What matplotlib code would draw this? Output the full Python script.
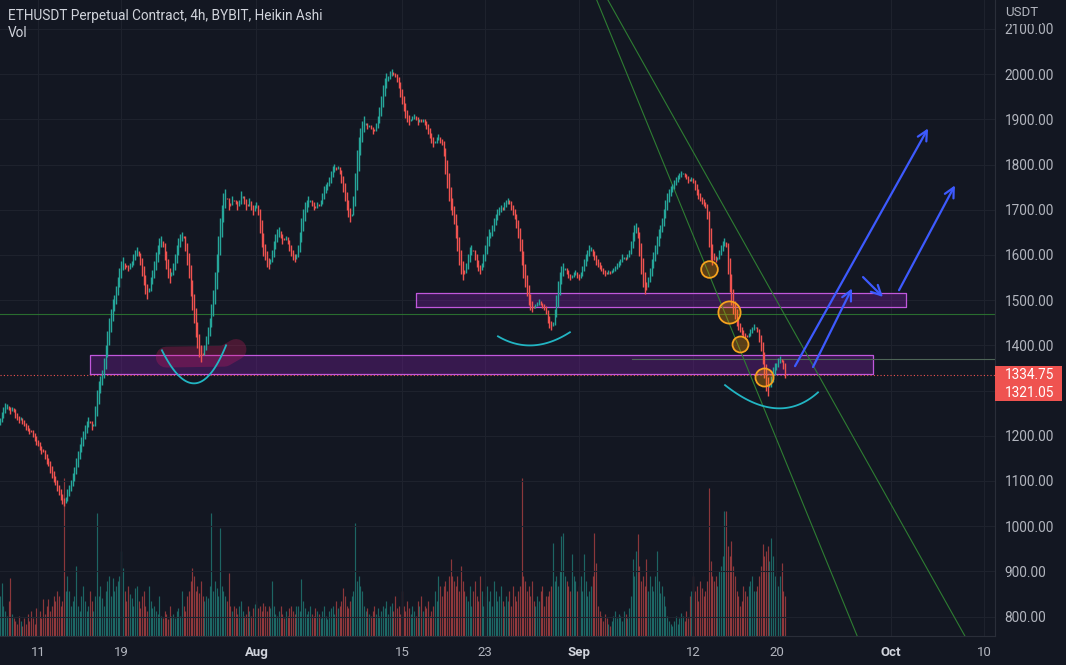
import matplotlib
matplotlib.use("Agg")
import matplotlib.pyplot as plt
import matplotlib.dates as mdates
import matplotlib.transforms as mtransforms
from matplotlib.patches import Rectangle
import numpy as np
import pandas as pd

plt.rcParams["font.family"] = ["Roboto", "DejaVu Sans"]

BG = "#131722"
GRID = "#1e222d"
TEXT = "#b2b5be"
UP = "#26a69a"
DOWN = "#ef5350"

# 4h Heikin Ashi closes, first candle 2022-07-07 08:00
START = "2022-07-07 08:00"
FIRST_OPEN = 1225
ha_close = [
    1238, 1252, 1262, 1270,                 # Jul 7
    1268, 1258, 1250, 1262, 1255, 1240,     # Jul 8
    1236, 1230, 1240, 1228, 1222, 1215,
    1212, 1205, 1210, 1198, 1190, 1182,
    1178, 1170, 1162, 1165, 1150, 1140,     # Jul 11
    1135, 1120, 1108, 1100, 1092, 1080,
    1070, 1060, 1050, 1045, 1062, 1080,
    1090, 1100, 1115, 1130, 1150, 1165,
    1180, 1195, 1210, 1222, 1232, 1240,     # Jul 15
    1230, 1215, 1225, 1265, 1300, 1320,
    1330, 1345, 1370, 1400, 1430, 1460,
    1480, 1500, 1510, 1530, 1550, 1570,
    1585, 1595, 1570, 1575, 1565, 1580,     # Jul 19
    1585, 1600, 1610, 1615, 1600, 1580,
    1555, 1535, 1515, 1505, 1525, 1550,
    1565, 1585, 1605, 1620, 1635, 1640,
    1620, 1590, 1570, 1550, 1540, 1560,     # Jul 23
    1580, 1600, 1620, 1635, 1645, 1650,
    1640, 1610, 1580, 1550, 1510, 1480,
    1450, 1420, 1395, 1375, 1365, 1380,
    1400, 1420, 1440, 1460, 1490, 1520,     # Jul 27
    1560, 1600, 1640, 1680, 1710, 1735,
    1745, 1725, 1700, 1710, 1730, 1720,
    1715, 1700, 1720, 1740, 1730, 1715,
    1700, 1710, 1725, 1700, 1690, 1710,     # Jul 31
    1715, 1690, 1650, 1620, 1600, 1590,     # Aug 1
    1575, 1570, 1590, 1610, 1630, 1645,
    1655, 1660, 1640, 1625, 1635, 1640,
    1625, 1610, 1600, 1590, 1585, 1600,     # Aug 4
    1620, 1650, 1680, 1700, 1715, 1720,
    1730, 1720, 1710, 1700, 1705, 1715,
    1710, 1720, 1735, 1750, 1755, 1760,
    1770, 1785, 1795, 1800, 1790, 1795,     # Aug 8
    1780, 1760, 1740, 1720, 1700, 1685,
    1675, 1690, 1730, 1780, 1830, 1860,
    1880, 1895, 1905, 1890, 1880, 1885,
    1880, 1870, 1875, 1890, 1905, 1925,     # Aug 12
    1950, 1975, 1990, 2000, 1995, 2005,
    2010, 2000, 1995, 1985, 1970, 1950,
    1935, 1920, 1905, 1895, 1890, 1900,
    1905, 1910, 1900, 1890, 1900, 1895,     # Aug 16
    1900, 1890, 1880, 1870, 1860, 1850,
    1840, 1850, 1860, 1865, 1850, 1845,
    1820, 1780, 1750, 1720, 1700, 1690,
    1670, 1640, 1610, 1580, 1560, 1545,     # Aug 20
    1560, 1580, 1600, 1615, 1620, 1610,
    1590, 1575, 1565, 1560, 1580, 1600,
    1620, 1640, 1655, 1650, 1665, 1680,
    1690, 1700, 1705, 1710, 1700, 1715,     # Aug 24
    1720, 1725, 1715, 1700, 1690, 1680,
    1660, 1640, 1610, 1580, 1550, 1530,
    1510, 1490, 1480, 1475, 1485, 1490,
    1495, 1500, 1490, 1485, 1480, 1470,     # Aug 28
    1450, 1440, 1435, 1450, 1480, 1510,
    1540, 1560, 1575, 1580, 1570, 1560,
    1550, 1545, 1555, 1560, 1565, 1550,
    1545, 1560, 1575, 1590, 1600, 1610,     # Sep 1
    1620, 1615, 1600, 1590, 1580, 1575,
    1570, 1565, 1560, 1555, 1560, 1565,
    1560, 1565, 1570, 1575, 1580, 1585,
    1590, 1600, 1595, 1590, 1600, 1610,     # Sep 5
    1630, 1650, 1665, 1670, 1640, 1600,
    1560, 1530, 1515, 1525, 1550, 1570,
    1590, 1605, 1620, 1640, 1655, 1665,
    1680, 1700, 1720, 1735, 1745, 1750,     # Sep 9
    1755, 1765, 1770, 1775, 1780, 1785,
    1780, 1775, 1770, 1760, 1765, 1770,
    1760, 1745, 1735, 1725, 1720, 1715,
    1710, 1705, 1680, 1620, 1590, 1580,     # Sep 13
    1590, 1585, 1595, 1610, 1620, 1630,
    1635, 1620, 1560, 1520, 1490, 1470,
    1460, 1445, 1435, 1430, 1425, 1420,
    1415, 1420, 1425, 1435, 1440, 1445,     # Sep 17
    1440, 1430, 1410, 1390, 1360, 1330,
    1300, 1290, 1310, 1330, 1350, 1360,
    1360, 1370, 1375, 1365, 1350, 1330,     # Sep 20
]

volume = [
    40, 53, 30, 25,
    20, 35, 58, 22, 18, 15,
    12, 20, 15, 10, 18, 12,
    22, 15, 25, 18, 12, 28,
    20, 25, 18, 37, 22, 30,
    37, 25, 30, 40, 35, 45,
    40, 30, 35, 158, 45, 60,
    45, 30, 35, 40, 70, 30,
    25, 40, 50, 35, 25, 30,
    45, 35, 25, 40, 123, 40,
    50, 38, 30, 45, 55, 60,
    40, 58, 45, 50, 55, 60,
    85, 68, 45, 35, 50, 42,
    38, 30, 48, 50, 35, 28,
    40, 45, 30, 25, 50, 35,
    28, 30, 25, 22, 40, 20,
    18, 25, 22, 17, 30, 20,
    22, 18, 25, 28, 20, 45,
    30, 25, 40, 45, 55, 68,
    60, 45, 50, 43, 55, 40,
    35, 40, 38, 50, 123, 45,
    55, 48, 40, 108, 50, 45,
    40, 35, 63, 30, 25, 30,
    28, 22, 30, 35, 25, 20,
    22, 30, 25, 20, 28, 32,
    35, 28, 30, 25, 33, 30,
    25, 30, 28, 55, 30, 22,
    20, 25, 30, 22, 18, 25,
    20, 28, 30, 25, 22, 30,
    30, 25, 57, 35, 28, 22,
    25, 30, 22, 20, 28, 25,
    22, 18, 25, 30, 20, 17,
    25, 28, 30, 22, 35, 28,
    30, 35, 48, 40, 30, 28,
    35, 40, 45, 113, 55, 60,
    50, 45, 30, 25, 28, 22,
    20, 25, 30, 22, 28, 20,
    25, 30, 28, 35, 22, 30,
    33, 25, 40, 28, 30, 22,
    45, 30, 25, 35, 28, 22,
    30, 25, 20, 35, 30, 40,
    25, 30, 28, 35, 20, 25,
    30, 45, 35, 60, 50, 40,
    50, 55, 45, 60, 77, 60,
    55, 50, 60, 45, 70, 55,
    45, 40, 35, 50, 30, 45,
    55, 40, 35, 60, 45, 30,
    40, 50, 35, 45, 30, 55,
    45, 35, 40, 50, 35, 30,
    40, 35, 45, 30, 50, 40,
    35, 45, 50, 158, 60, 55,
    45, 50, 40, 55, 35, 30,
    40, 35, 45, 50, 30, 40,
    40, 45, 50, 93, 55, 60,
    50, 65, 100, 103, 60, 55,
    50, 45, 82, 60, 55, 45,
    50, 60, 45, 82, 55, 40,
    45, 50, 60, 103, 73, 30,
    25, 20, 15, 22, 18, 12,
    10, 15, 20, 25, 18, 22,
    20, 15, 25, 22, 18, 28,
    40, 77, 60, 85, 102, 70,
    55, 60, 50, 77, 45, 60,
    50, 45, 60, 85, 55, 43,
    50, 40, 30, 20, 15, 12,
    10, 15, 20, 12, 18, 23,
    20, 15, 25, 18, 40, 45,
    60, 45, 50, 35, 55, 48,
    40, 45, 55, 148, 75, 60,
    55, 60, 50, 65, 70, 80,
    125, 125, 90, 80, 95, 70,
    60, 45, 40, 30, 35, 50,
    45, 40, 50, 55, 60, 45,
    45, 50, 60, 70, 92, 80,
    85, 90, 75, 98, 80, 60,
    55, 50, 60, 73, 45, 40,
]

LAST_PRICE = 1334.75
HA_LAST = 1321.05

price_ticks = [800, 900, 1000, 1100, 1200, 1300, 1400, 1500, 1600, 1700, 1800, 1900, 2000, 2100]
hidden_ticks = [1300]  # covered by the last-price badge
date_ticks = ["2022-07-11", "2022-07-19", "2022-08-01", "2022-08-15", "2022-08-23",
              "2022-09-01", "2022-09-12", "2022-09-20", "2022-10-01", "2022-10-10"]
date_labels = ["11", "19", "Aug", "15", "23", "Sep", "12", "20", "Oct", "10"]
month_labels = ["Aug", "Sep", "Oct"]
view_dates = ["2022-07-07 08:18", "2022-10-11 00:30"]
view_prices = [757, 2164]

# chart drawings (anchored in time / price)
zones = [
    ("2022-07-16 00:00", "2022-09-29 07:00", 1337, 1378),
    ("2022-08-16 08:30", "2022-10-02 11:00", 1485, 1515),
]
hline_full = 1469
hline_partial = ("2022-09-06 02:00", 1369.5)
trend_lines = [
    (("2022-09-07 20:24", 1876), ("2022-09-24 04:34", 958)),
    (("2022-09-10 17:30", 1880), ("2022-10-01 21:10", 1013)),
]
circle_points = [("2022-09-13 12:30", 1570), ("2022-09-15 11:15", 1473),
                 ("2022-09-16 12:00", 1404), ("2022-09-18 19:30", 1330)]
circle_sizes = [12, 16, 11.5, 13]
arcs = [
    [("2022-07-22 22:00", 1389), ("2022-07-26 02:30", 1316), ("2022-07-29 02:00", 1400)],
    [("2022-08-24 05:30", 1420), ("2022-08-27 14:30", 1400), ("2022-08-31 03:30", 1429)],
    [("2022-09-15 01:30", 1312), ("2022-09-19 21:00", 1261), ("2022-09-24 00:00", 1296)],
]
brush = [("2022-07-23 08:00", 1374), ("2022-07-28 22:00", 1376), ("2022-07-30 01:00", 1391)]
arrows = [
    (("2022-09-21 19:00", 1354), ("2022-10-04 14:00", 1880)),
    (("2022-09-23 12:30", 1352), ("2022-09-27 06:30", 1526)),
    (("2022-09-28 08:00", 1551), ("2022-09-30 06:00", 1507)),
    (("2022-10-01 19:00", 1522), ("2022-10-07 04:00", 1754)),
]


def dn(s):
    return mdates.date2num(pd.Timestamp(s).to_pydatetime())


times = pd.date_range(START, periods=len(ha_close), freq="4h")
tx = mdates.date2num(times.to_pydatetime())
close = np.array(ha_close, dtype=float)
opens = np.empty_like(close)
opens[0] = FIRST_OPEN
for i in range(1, len(close)):
    opens[i] = (opens[i - 1] + close[i - 1]) / 2
colors = np.where(close >= opens, UP, DOWN)

fig = plt.figure(figsize=(10.66, 6.65), dpi=100, facecolor=BG)
ax = fig.add_axes([0, 29 / 665, 995 / 1066, 636 / 665])
ax_vol = ax.twinx()
ax.set_zorder(2)
ax_vol.set_zorder(1)
ax.patch.set_visible(False)
ax_vol.set_facecolor(BG)

# volume
ax_vol.vlines(tx, 0, volume, colors=colors, linewidth=0.85, alpha=0.55)
ax_vol.set_ylim(0, 636)
ax_vol.set_yticks([])
for s in ax_vol.spines.values():
    s.set_visible(False)

# candles
ax.vlines(tx, np.minimum(opens, close) - 1.5, np.maximum(opens, close) + 1.5,
          colors=colors, linewidth=1.0, zorder=3)

ax.set_xlim(dn(view_dates[0]), dn(view_dates[1]))
ax.set_ylim(*view_prices)

# zones
for x0, x1, lo, hi in zones:
    ax.fill_between([dn(x0), dn(x1)], lo, hi, color="#7b1fa2", alpha=0.35, lw=0, zorder=2)
    ax.plot([dn(x0), dn(x1), dn(x1), dn(x0), dn(x0)], [lo, lo, hi, hi, lo],
            color="#c158dc", lw=0.9, zorder=2)

ax.axhline(hline_full, color="#2e7d32", lw=0.8, alpha=0.85, zorder=2)
ax.plot([dn(hline_partial[0]), dn(view_dates[1])], [hline_partial[1]] * 2,
        color="#4f6658", lw=0.8, zorder=2)
ax.axhline(LAST_PRICE, color=DOWN, lw=0.8, ls=(0, (1, 2)), zorder=2)

for (a, pa), (b, pb) in trend_lines:
    ax.axline((dn(a), pa), (dn(b), pb), color="#2e7d32", lw=0.8, zorder=2)

# brush highlight
ax.plot([dn(d) for d, _ in brush], [p for _, p in brush], color="#d81b60",
        alpha=0.28, lw=15, solid_capstyle="round", solid_joinstyle="round", zorder=2)

# arcs
t = np.linspace(0, 1, 60)
for pts in arcs:
    (x0, y0), (xm, ym), (x2, y2) = [(dn(d), p) for d, p in pts]
    cx, cy = 2 * xm - (x0 + x2) / 2, 2 * ym - (y0 + y2) / 2
    bx = (1 - t) ** 2 * x0 + 2 * (1 - t) * t * cx + t ** 2 * x2
    by = (1 - t) ** 2 * y0 + 2 * (1 - t) * t * cy + t ** 2 * y2
    ax.plot(bx, by, color="#22b5c3", lw=1.3, zorder=4)

# circles
for (d, p), s in zip(circle_points, circle_sizes):
    ax.scatter([dn(d)], [p], s=s ** 2, facecolor=(1.0, 0.6, 0.0, 0.3),
               edgecolor="#f6a21e", linewidth=1.3, zorder=5)

# arrows
for (a, pa), (b, pb) in arrows:
    ax.annotate("", xy=(dn(b), pb), xytext=(dn(a), pa),
                arrowprops=dict(arrowstyle="->,head_length=0.7,head_width=0.35",
                                color="#3d5afe", lw=1.6, shrinkA=0, shrinkB=0),
                zorder=6)

# axes styling
ax.set_yticks(price_ticks)
ax.set_yticklabels(["" if v in hidden_ticks else f"{v:.2f}" for v in price_ticks])
ax.yaxis.tick_right()
ax.set_xticks([dn(s) for s in date_ticks])
ax.set_xticklabels(date_labels)
ax.tick_params(axis="y", length=0, pad=7, labelsize=9.8, labelcolor=TEXT)
ax.tick_params(axis="x", length=0, pad=7, labelsize=9.5, labelcolor=TEXT)
for lab in ax.get_xticklabels():
    if lab.get_text() in month_labels:
        lab.set_fontweight("bold")
        lab.set_color("#d1d4dc")
ax.grid(True, color=GRID, lw=0.8, zorder=0)
for name, s in ax.spines.items():
    s.set_visible(name in ("right", "bottom"))
    s.set_color("#2a2e39")

# last price badge
badge = mtransforms.blended_transform_factory(ax.transAxes, ax.transData)
ax.add_patch(Rectangle((1.0, LAST_PRICE - 58), 67 / 995, 77, transform=badge,
                       facecolor=DOWN, edgecolor="none", clip_on=False, zorder=10))
for k, val in enumerate([LAST_PRICE, HA_LAST]):
    ax.annotate(f"{val:.2f}", xy=(1, LAST_PRICE), xycoords=badge,
                xytext=(10, -18 * k), textcoords="offset pixels",
                ha="left", va="center", fontsize=9.8, color="white",
                annotation_clip=False, zorder=11)

fig.text(1005 / 1066, 1 - 13 / 665, "USDT", color=TEXT, fontsize=9.5, va="center", ha="left",
         bbox=dict(fc=BG, ec="none", pad=3), zorder=10)
fig.text(8 / 1066, 1 - 16 / 665, "ETHUSDT Perpetual Contract, 4h, BYBIT, Heikin Ashi",
         color="#d1d4dc", fontsize=9.8, va="center", ha="left")
fig.text(8 / 1066, 1 - 33 / 665, "Vol", color="#d1d4dc", fontsize=9.8, va="center", ha="left")

fig.savefig("out.png", dpi=100, facecolor=BG)
